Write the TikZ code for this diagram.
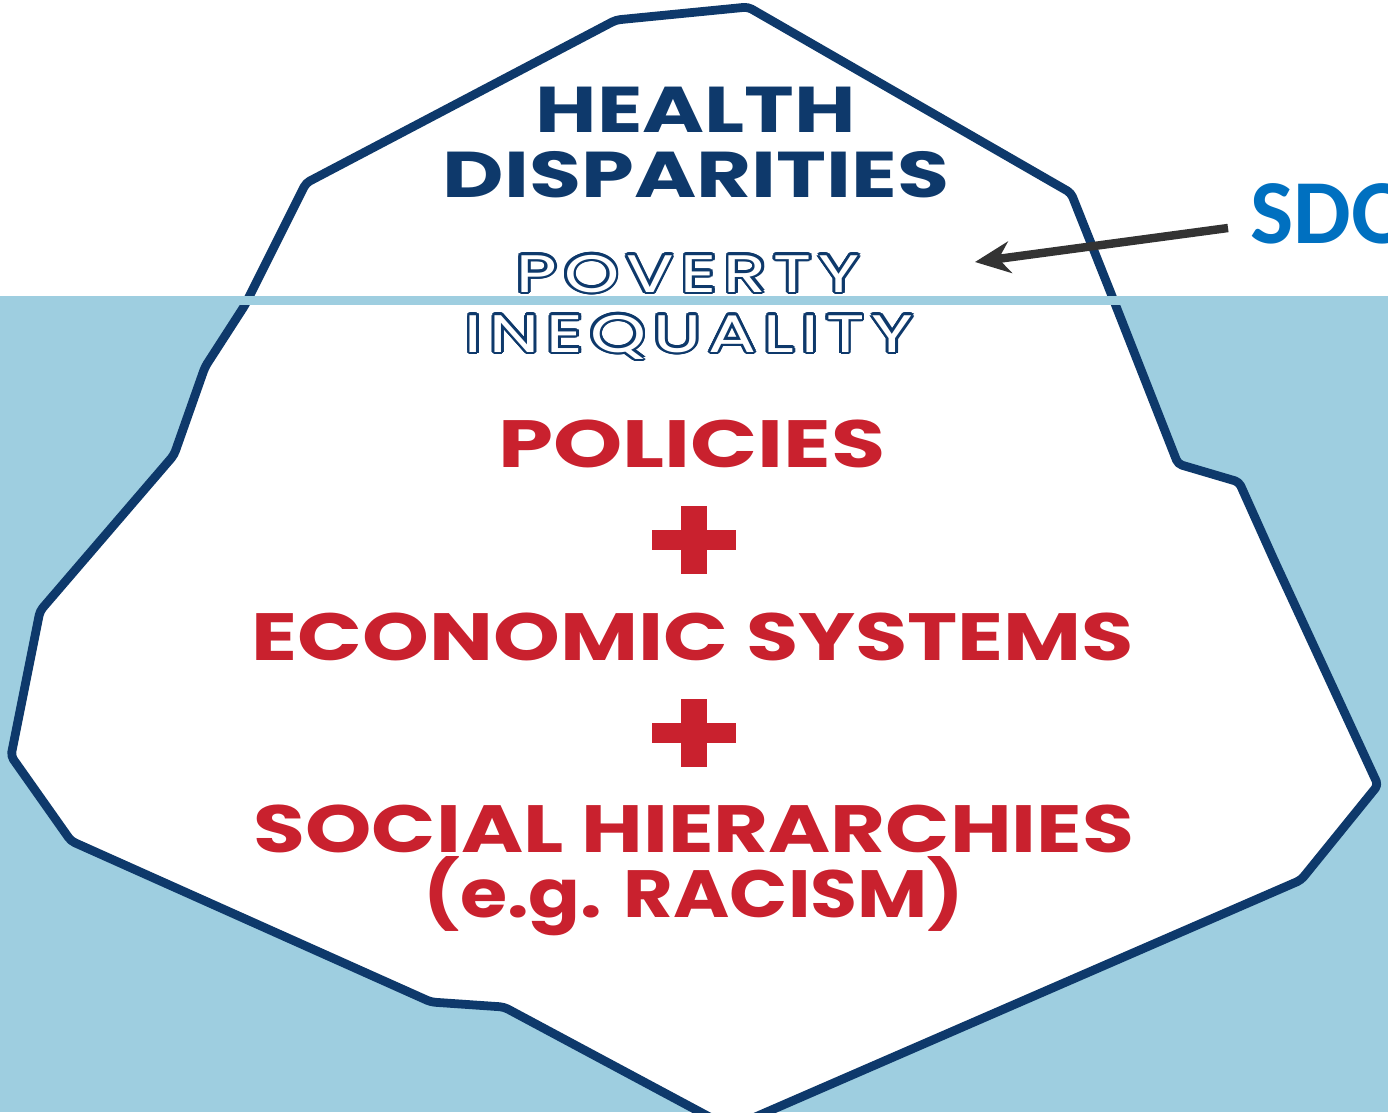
\documentclass[tikz,border=0pt]{standalone}
\usepackage{fontspec}
\usepackage{graphicx}
\usetikzlibrary{arrows.meta}
\newfontfamily\bergfont{Poppins}
\newfontfamily\widefont{Poppins}[LetterSpace=10]
\newfontfamily\calfont{Carlito}
\definecolor{bergnavy} {RGB}{14, 57,107}
\definecolor{bergred}  {RGB}{201, 33, 46}
\definecolor{sdohblue} {RGB}{0,112,192}
\definecolor{water}    {RGB}{158,206,224}
\definecolor{arrowgray}{RGB}{51, 51, 51}
% stretch a word to a given width, keeping its height
\newcommand{\fitto}[2]{\resizebox{#1}{\height}{#2}}
\tikzset{
  berg/.style={fill=white,draw=bergnavy,line width=2.5pt,line join=round,
    rounded corners=1.2pt},
  headtxt/.style={font=\bergfont\bfseries\fontsize{18.4}{20}\selectfont,
    text=bergnavy,anchor=base,inner sep=0pt},
  redtxt/.style={font=\bergfont\bfseries\fontsize{19}{21}\selectfont,
    text=bergred,anchor=base,inner sep=0pt},
  hollow/.style={font=\widefont\fontsize{15}{17}\selectfont,
    anchor=base,inner sep=0pt},
  pointer/.style={-{Stealth[length=10pt,width=9pt]},line width=2.4pt,
    draw=arrowgray},
  redplus/.pic={
    \fill[bergred] (-42,-10) rectangle (42,10);
    \fill[bergred] (-13,-34) rectangle (13,34);
  },
}

\begin{document}
\begin{tikzpicture}[x=0.01cm,y=-0.01cm]
  \useasboundingbox (0,0) rectangle (1388,1112);
  \clip (0,0) rectangle (1388,1112);
  % sea below the waterline
  \fill[white] (0,0) rectangle (1388,296);
  \fill[water] (0,296) rectangle (1388,1112);
  % iceberg
  \draw[berg] (616,20) -- (748,7) -- (1071,193) -- (1112,296) -- (1178,464)
    -- (1239,482) -- (1274,560) -- (1378,785) -- (1301,880) -- (730,1128)
    -- (504,1007) -- (431,1002) -- (71,841) -- (11,756) -- (40,611)
    -- (174,455) -- (205,367) -- (245,305) -- (306,183) -- cycle;
  % waterline band
  \fill[water] (0,296) rectangle (1388,305);

  % above the water
  \node[headtxt] (health) at (696,132) {\fitto{3.20cm}{HEALTH}};
  \node[headtxt] (disp) at (696,197) {\fitto{5.06cm}{DISPARITIES}};

  % outlined words
  \coordinate (povbase) at (688,292);
  \coordinate (ineqbase) at (689,352);
  \foreach \a in {0,22.5,...,337.5}{
    \node[hollow,text=bergnavy,shift={(\a:0.75pt)}] at (povbase)
      {\fitto{3.43cm}{POVERTY}};
    \node[hollow,text=bergnavy,shift={(\a:0.75pt)}] at (ineqbase)
      {\fitto{4.48cm}{INEQUALITY}};
  }
  \node[hollow,text=white] (poverty) at (povbase) {\fitto{3.43cm}{POVERTY}};
  \node[hollow,text=white] (inequality) at (ineqbase) {\fitto{4.48cm}{INEQUALITY}};

  % below the water
  \node[redtxt] (policies) at (692,467) {\fitto{3.87cm}{POLICIES}};
  \pic at (694,540) {redplus};
  \node[redtxt] (econ) at (693,660) {\fitto{8.82cm}{ECONOMIC SYSTEMS}};
  \pic at (694,733) {redplus};
  \node[redtxt] (social) at (694,852) {\fitto{8.80cm}{SOCIAL HIERARCHIES}};
  \node[redtxt] (racism) at (694,917) {\fitto{5.40cm}{(e.g. RACISM)}};

  % label and pointer
  \node[anchor=base west,inner sep=0pt,text=sdohblue,
        font=\calfont\bfseries\fontsize{26}{28}\selectfont] (sdoh) at (1250,243) {SDOH};
  \coordinate (tail) at (1228,228);
  \coordinate (tip) at (975,262);
  \draw[pointer] (tail) -- (tip);
\end{tikzpicture}
\end{document}
